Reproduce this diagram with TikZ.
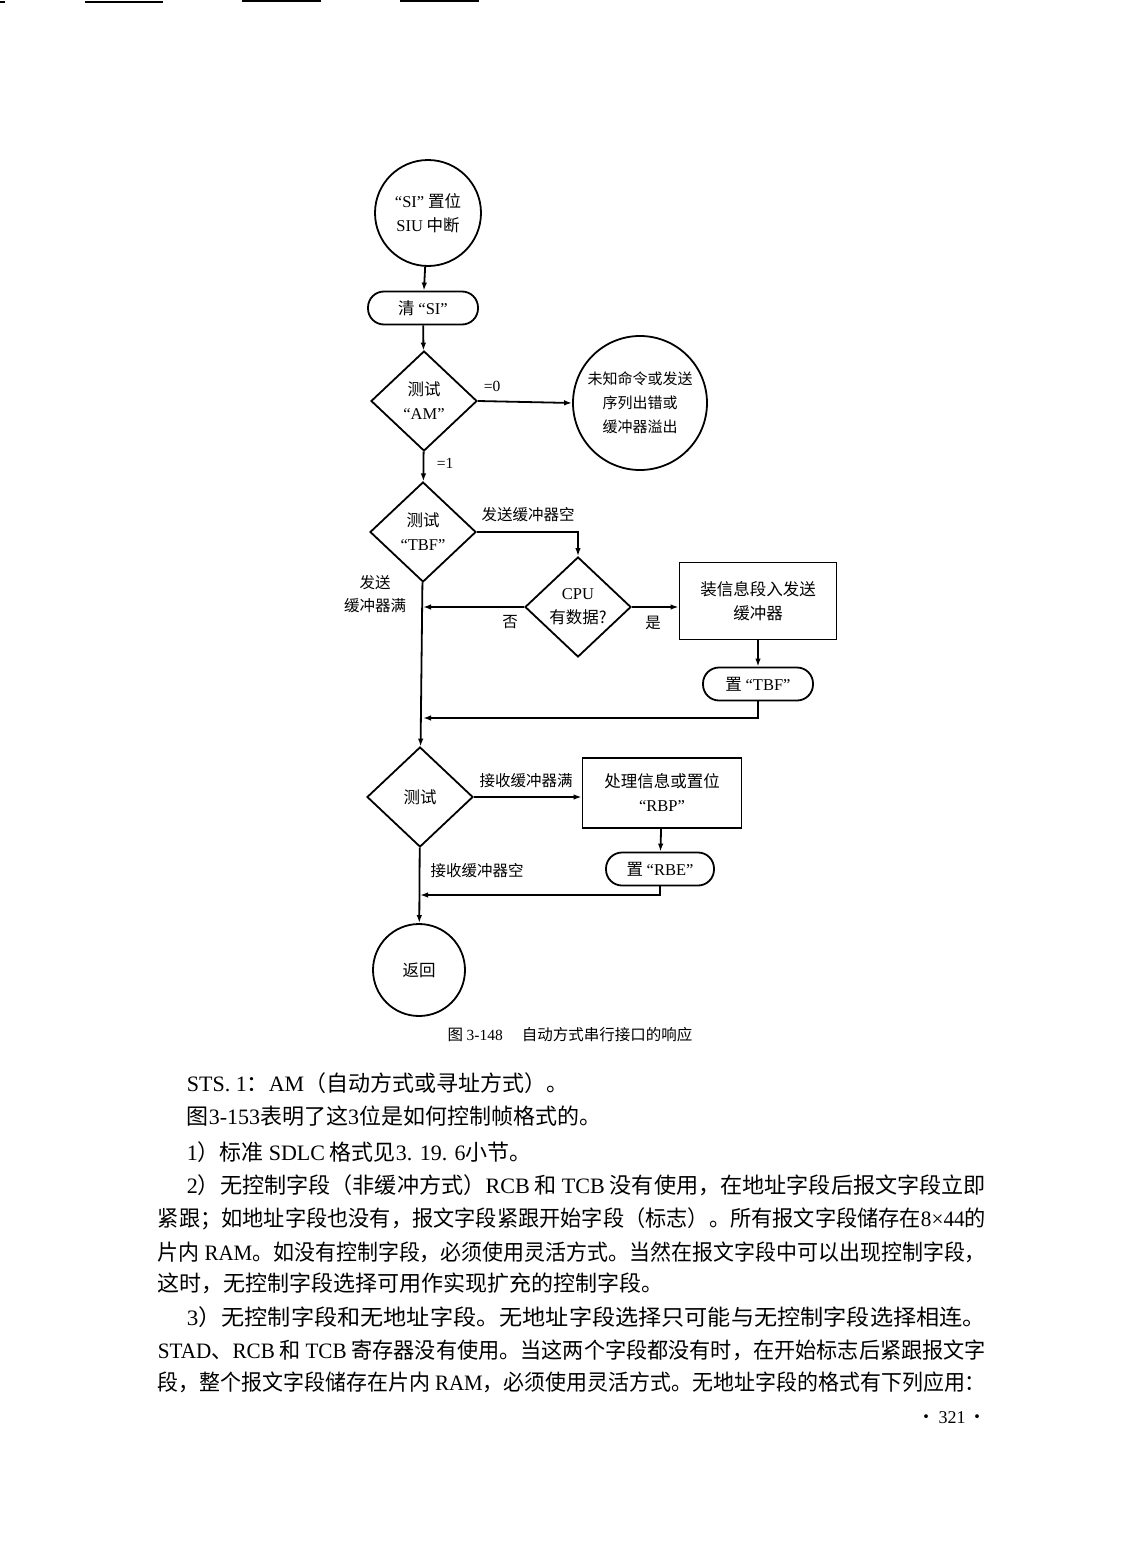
\documentclass[tikz,border=0pt]{standalone}
\usepackage{fontspec}
\usepackage{graphicx}
\setmainfont{Noto Sans CJK SC}
\newfontfamily\latin{Liberation Serif}
\newcommand{\lat}[1]{{\latin #1}}
\newcommand{\fitline}[2]{\resizebox{#1}{\height}{#2}}
\usetikzlibrary{shapes.geometric,arrows.meta}
\tikzset{
  flow/.style={-{Latex[length=8pt,width=5.5pt]}},
  term/.style={draw, circle, align=center, inner sep=0pt},
  test/.style={draw, diamond, align=center, inner sep=0pt, minimum width=106pt, minimum height=100pt},
  stepbox/.style={draw, rectangle, align=center},
  roundbox/.style={draw, rectangle, rounded corners=16pt, align=center, minimum width=110pt, minimum height=33pt},
  tag/.style={font=\fontsize{15.5}{23}\selectfont},
  para/.style={anchor=base west, inner sep=0pt, font=\fontsize{22}{22}\selectfont}
}
\begin{document}
\begin{tikzpicture}[x=1pt,y=-1pt,line width=1.8pt,font=\fontsize{16.5}{24}\selectfont]
    \fill[white] (0,0) rectangle (1122,1568);
    \useasboundingbox (0,0) rectangle (1122,1568);
    % scan edge at the top
    \draw[line width=2pt] (0,2) -- (5,2) (85,2) -- (163,2) (242,1) -- (321,1) (400,1) -- (479,1);
    % flow chart
    \node[term, minimum size=106pt] (start) at (428,213) {\lat{“SI”} 置位\\\lat{SIU} 中断};
    \node[roundbox] (clr) at (423,308) {清 \lat{“SI”}};
    \node[test] (am) at (424,401) {测试\\\lat{“AM”}};
    \node[term, minimum size=134pt, font=\fontsize{15}{24}\selectfont] (err) at (640,403) {未知命令或发送\\序列出错或\\缓冲器溢出};
    \node[test] (tbf) at (423,532) {测试\\\lat{“TBF”}};
    \node[test] (cpu) at (578,607) {\lat{CPU}\\有数据?};
    \node[stepbox, minimum width=157pt, minimum height=77pt] (load) at (758,601) {装信息段入发送\\缓冲器};
    \node[roundbox] (settbf) at (758,684) {置 \lat{“TBF”}};
    \node[test] (rx) at (420,797) {测试};
    \node[stepbox, minimum width=159pt, minimum height=70pt] (proc) at (662,793) {处理信息或置位\\\lat{“RBP”}};
    \node[roundbox, minimum width=108pt] (setrbe) at (660,869) {置 \lat{“RBE”}};
    \node[term, minimum size=92pt] (ret) at (419,970) {返回};
    \coordinate (j1) at (423,607);
    \coordinate (j2) at (423,718);
    \coordinate (j3) at (420,895);
    % labels
    \node[tag] (eq0) at (492,386) {\lat{=0}};
    \node[tag] (eq1) at (445,463) {\lat{=1}};
    \node[tag] (txempty) at (528,515) {发送缓冲器空};
    \node[tag, align=center] (txfull) at (375,594) {发送\\缓冲器满};
    \node[tag] (no) at (510,622) {否};
    \node[tag] (yes) at (653,623) {是};
    \node[tag] (rxfull) at (526,781) {接收缓冲器满};
    \node[tag] (rxempty) at (477,871) {接收缓冲器空};
    \draw[flow] (start) -- (clr);
    \draw[flow] (clr) -- (am);
    \draw[flow] (am.east) -- (err.west);
    \draw[flow] (am) -- (tbf);
    \draw[flow] (tbf.east) -| (cpu.north);
    \draw[flow] (cpu.east) -- (cpu.east -| load.west);
    \draw[flow] (cpu.west) -- (j1);
    \draw[flow] (load) -- (settbf);
    \draw[flow] (settbf.south) |- (j2);
    \draw[flow] (tbf) -- (rx);
    \draw[flow] (rx.east) -- (rx.east -| proc.west);
    \draw[flow] (proc) -- (setrbe);
    \draw[flow] (setrbe.south) |- (j3);
    \draw[flow] (rx) -- (ret);
    \node (caption) at (570,1035) {\fontsize{15.5}{15.5}\selectfont 图 \lat{3-148}\quad\ 自动方式串行接口的响应};
    % text of the page
    \node[para] (l1) at (186,1091) {\lat{STS. 1}：\lat{AM}（自动方式或寻址方式）。};
    \node[para] (l2) at (186,1124) {图\lat{3-153}表明了这\lat{3}位是如何控制帧格式的。};
    \node[para] (l3) at (186,1160) {\lat{1}）标准 \lat{SDLC} 格式见\lat{3. 19. 6}小节。};
    \node[para] (l4) at (186,1193) {\fitline{799pt}{\lat{2}）无控制字段（非缓冲方式）\lat{RCB} 和 \lat{TCB} 没有使用，在地址字段后报文字段立即}};
    \node[para] (l5) at (157,1226) {\fitline{828pt}{紧跟；如地址字段也没有，报文字段紧跟开始字段（标志）。所有报文字段储存在\lat{8×44}的}};
    \node[para] (l6) at (157,1260) {\fitline{828pt}{片内 \lat{RAM}。如没有控制字段，必须使用灵活方式。当然在报文字段中可以出现控制字段，}};
    \node[para] (l7) at (157,1291) {这时，无控制字段选择可用作实现扩充的控制字段。};
    \node[para] (l8) at (186,1325) {\fitline{799pt}{\lat{3}）无控制字段和无地址字段。无地址字段选择只可能与无控制字段选择相连。}};
    \node[para] (l9) at (157,1358) {\fitline{828pt}{\lat{STAD}、\lat{RCB} 和 \lat{TCB} 寄存器没有使用。当这两个字段都没有时，在开始标志后紧跟报文字}};
    \node[para] (l10) at (157,1390) {\fitline{828pt}{段，整个报文字段储存在片内 \lat{RAM}，必须使用灵活方式。无地址字段的格式有下列应用：}};
    \node (page) at (952,1418) {\fontsize{18}{18}\selectfont ·\,\lat{321}\,·};
\end{tikzpicture}
\end{document}
